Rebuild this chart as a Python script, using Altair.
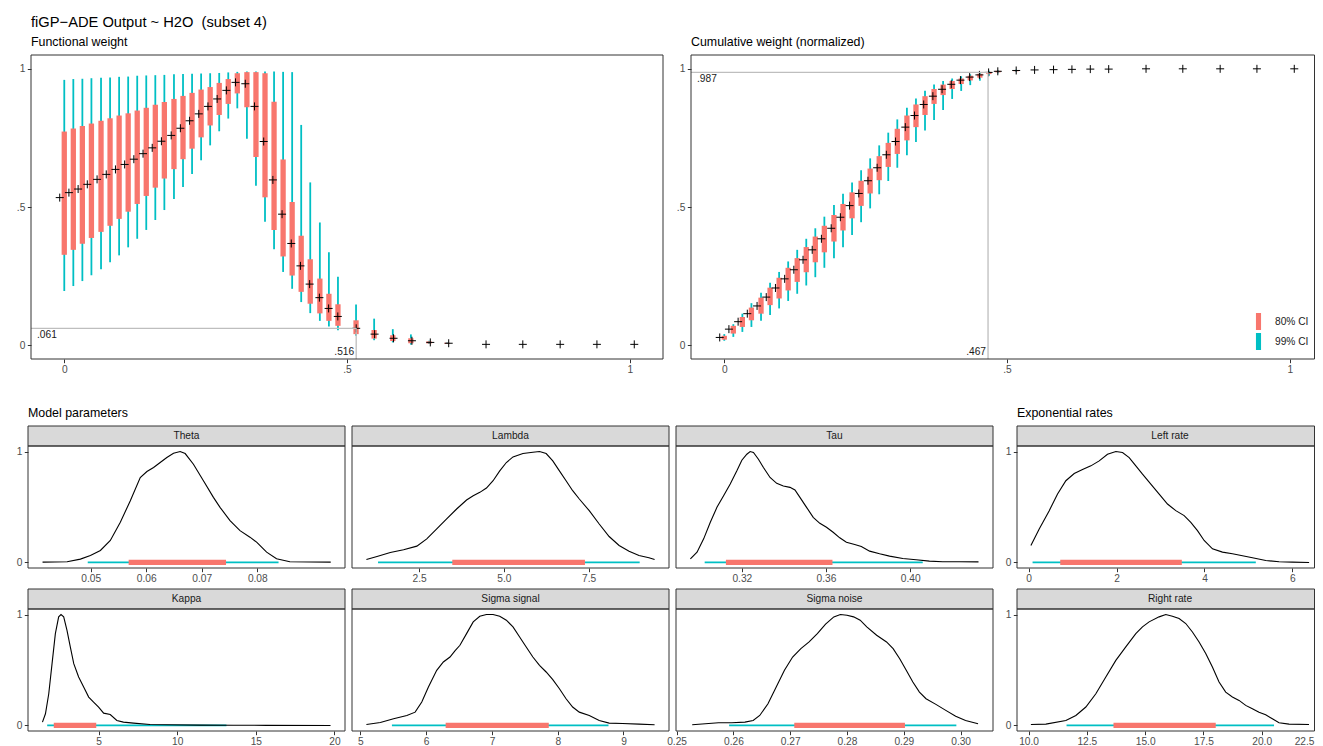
import altair as alt
import pandas as pd

# ------------------------------------------------------------------ data
TITLE = "fiGP\u2212ADE Output ~ H2O\u00a0 (subset 4)"
SUB_TL = "Functional weight"
SUB_TR = "Cumulative weight (normalized)"
SUB_PARAMS = "Model parameters"
SUB_RATES = "Exponential rates"
CI_NAMES = ["80% CI", "99% CI"]

GRID_X = [0.000, 0.016, 0.032, 0.048, 0.065, 0.081, 0.097, 0.113, 0.129, 0.145,
          0.161, 0.177, 0.194, 0.210, 0.226, 0.242, 0.258, 0.274, 0.290, 0.306,
          0.323, 0.339, 0.355, 0.371, 0.387, 0.403, 0.419, 0.435, 0.452, 0.468,
          0.484, 0.516, 0.548, 0.581, 0.613, 0.645, 0.677, 0.742, 0.806, 0.871,
          0.935, 1.000]

FW_MED = [0.534, 0.552, 0.565, 0.582, 0.600, 0.618, 0.636, 0.654, 0.673, 0.693,
          0.714, 0.738, 0.759, 0.785, 0.812, 0.837, 0.864, 0.891, 0.922, 0.951,
          0.946, 0.864, 0.737, 0.598, 0.474, 0.368, 0.287, 0.221, 0.172, 0.133,
          0.104, 0.061, 0.040, 0.025, 0.016, 0.010, 0.007, 0.003, 0.003, 0.003,
          0.003, 0.003]
FW_LO80 = [0.327, 0.345, 0.367, 0.388, 0.410, 0.432, 0.457, 0.483, 0.511, 0.540,
           0.570, 0.603, 0.637, 0.673, 0.711, 0.752, 0.795, 0.833, 0.873, 0.911,
           0.861, 0.681, 0.535, 0.417, 0.321, 0.252, 0.193, 0.150, 0.115, 0.088,
           0.070, 0.040, 0.024, 0.015, 0.007, 0.006, 0.005, 0.003, 0.003, 0.003,
           0.003, 0.003]
FW_HI80 = [0.773, 0.784, 0.793, 0.802, 0.812, 0.821, 0.831, 0.839, 0.849, 0.859,
           0.870, 0.880, 0.891, 0.902, 0.913, 0.925, 0.934, 0.949, 0.963, 0.984,
           0.988, 0.988, 0.984, 0.881, 0.672, 0.518, 0.396, 0.311, 0.241, 0.186,
           0.148, 0.090, 0.055, 0.036, 0.025, 0.014, 0.009, 0.003, 0.003, 0.003,
           0.003, 0.003]
FW_LO99 = [0.196, 0.214, 0.232, 0.253, 0.275, 0.300, 0.325, 0.354, 0.385, 0.417,
           0.453, 0.489, 0.529, 0.572, 0.619, 0.669, 0.723, 0.774, 0.820, 0.857,
           0.747, 0.577, 0.447, 0.347, 0.265, 0.204, 0.156, 0.116, 0.088, 0.068,
           0.054, 0.034, 0.018, 0.010, 0.002, 0.004, 0.004, 0.003, 0.003, 0.003,
           0.003, 0.003]
FW_HI99 = [0.960, 0.963, 0.964, 0.966, 0.968, 0.969, 0.971, 0.972, 0.975, 0.976,
           0.977, 0.978, 0.980, 0.981, 0.982, 0.983, 0.984, 0.985, 0.987, 0.989,
           0.990, 0.990, 0.990, 0.990, 0.989, 0.988, 0.797, 0.589, 0.444, 0.336,
           0.248, 0.147, 0.096, 0.058, 0.039, 0.016, 0.010, 0.003, 0.003, 0.003,
           0.003, 0.003]
FW_CUT_X, FW_CUT_Y = 0.516, 0.061
FW_LAB_X, FW_LAB_Y = ".516", ".061"

CW_MED = [0.028, 0.058, 0.085, 0.114, 0.142, 0.174, 0.207, 0.240, 0.273, 0.309,
          0.345, 0.385, 0.423, 0.463, 0.505, 0.549, 0.595, 0.642, 0.689, 0.737,
          0.789, 0.831, 0.871, 0.901, 0.926, 0.944, 0.959, 0.970, 0.978, 0.987,
          0.991, 0.994, 0.996, 0.997, 0.998, 0.999, 0.999, 1.000, 1.000, 1.000,
          1.000, 1.000]
CW_LO80 = [0.020, 0.042, 0.066, 0.090, 0.114, 0.145, 0.169, 0.198, 0.229, 0.264,
           0.300, 0.336, 0.375, 0.415, 0.459, 0.504, 0.549, 0.597, 0.645, 0.692,
           0.741, 0.789, 0.833, 0.873, 0.905, 0.927, 0.945, 0.958, 0.968, 0.981,
           0.987, 0.991, 0.996, 0.997, 0.998, 0.999, 0.999, 1.000, 1.000, 1.000,
           1.000, 1.000]
CW_HI80 = [0.034, 0.070, 0.102, 0.136, 0.172, 0.208, 0.244, 0.280, 0.315, 0.355,
           0.393, 0.432, 0.471, 0.511, 0.553, 0.595, 0.639, 0.684, 0.732, 0.783,
           0.831, 0.871, 0.901, 0.927, 0.943, 0.956, 0.965, 0.975, 0.982, 0.989,
           0.993, 0.995, 0.996, 0.997, 0.998, 0.999, 0.999, 1.000, 1.000, 1.000,
           1.000, 1.000]
CW_LO99 = [0.016, 0.030, 0.048, 0.066, 0.088, 0.109, 0.133, 0.160, 0.186, 0.216,
           0.246, 0.280, 0.315, 0.354, 0.399, 0.445, 0.495, 0.546, 0.594, 0.642,
           0.687, 0.735, 0.777, 0.815, 0.851, 0.891, 0.920, 0.941, 0.957, 0.975,
           0.984, 0.989, 0.996, 0.997, 0.998, 0.999, 0.999, 1.000, 1.000, 1.000,
           1.000, 1.000]
CW_HI99 = [0.040, 0.076, 0.114, 0.152, 0.190, 0.226, 0.265, 0.303, 0.345, 0.385,
           0.423, 0.465, 0.507, 0.548, 0.589, 0.633, 0.676, 0.723, 0.769, 0.817,
           0.859, 0.893, 0.921, 0.943, 0.956, 0.965, 0.973, 0.980, 0.987, 0.993,
           0.995, 0.997, 0.996, 0.997, 0.998, 0.999, 0.999, 1.000, 1.000, 1.000,
           1.000, 1.000]
CW_CUT_X, CW_CUT_Y = 0.467, 0.987
CW_LAB_X, CW_LAB_Y = ".467", ".987"

# posterior densities (scaled to max 1) and intervals [lo99, lo80, hi80, hi99]
THETA_X = [0.04132, 0.04575, 0.04814, 0.04994, 0.05174, 0.05353, 0.05533, 0.05713,
           0.05892, 0.06012, 0.06132, 0.06251, 0.06371, 0.06491, 0.06611, 0.06701,
           0.06850, 0.07030, 0.07210, 0.07329, 0.07509, 0.07689, 0.07868, 0.07988,
           0.08168, 0.08347, 0.08587, 0.09323]
THETA_D = [0.003, 0.006, 0.030, 0.063, 0.108, 0.198, 0.362, 0.557, 0.766, 0.820,
           0.856, 0.901, 0.946, 0.985, 1.000, 0.982, 0.886, 0.737, 0.587, 0.497,
           0.377, 0.287, 0.228, 0.183, 0.093, 0.033, 0.006, 0.003]
THETA_CI = [0.04946, 0.05683, 0.07437, 0.08383]

KAPPA_X = [1.43, 1.62, 1.83, 2.04, 2.25, 2.46, 2.61, 2.78, 2.99, 3.20, 3.42, 3.73,
           4.05, 4.37, 4.68, 5.00, 5.32, 5.74, 6.16, 6.58, 7.22, 8.27, 9.33, 11.44,
           13.56, 15.67, 19.75]
KAPPA_D = [0.030, 0.105, 0.286, 0.557, 0.828, 0.979, 1.000, 0.979, 0.858, 0.708,
           0.557, 0.437, 0.346, 0.256, 0.211, 0.166, 0.111, 0.099, 0.045, 0.030,
           0.021, 0.009, 0.006, 0.003, 0.002, 0.001, 0.000]
KAPPA_CI = [1.73, 2.15, 4.85, 13.13]

LAMBDA_X = [0.944, 1.257, 1.649, 2.040, 2.432, 2.725, 3.019, 3.312, 3.606, 3.899,
            4.095, 4.291, 4.486, 4.682, 4.878, 5.073, 5.269, 5.563, 5.856, 6.052,
            6.248, 6.443, 6.639, 6.835, 7.030, 7.226, 7.519, 7.813, 8.106, 8.400,
            8.694, 8.987, 9.281, 9.447]
LAMBDA_D = [0.027, 0.054, 0.090, 0.114, 0.147, 0.213, 0.302, 0.392, 0.482, 0.563,
            0.602, 0.632, 0.671, 0.737, 0.826, 0.901, 0.952, 0.982, 0.994, 1.000,
            0.982, 0.916, 0.826, 0.737, 0.647, 0.572, 0.467, 0.347, 0.234, 0.153,
            0.102, 0.063, 0.042, 0.027]
LAMBDA_CI = [1.287, 3.478, 7.392, 9.007]

SIGS_X = [5.091, 5.303, 5.504, 5.706, 5.832, 5.933, 6.034, 6.160, 6.261, 6.362,
          6.437, 6.513, 6.614, 6.715, 6.815, 6.916, 7.017, 7.118, 7.219, 7.320,
          7.421, 7.521, 7.622, 7.723, 7.824, 7.925, 8.026, 8.127, 8.227, 8.328,
          8.480, 8.631, 8.782, 8.984, 9.236, 9.473]
SIGS_D = [0.009, 0.027, 0.060, 0.090, 0.120, 0.211, 0.346, 0.497, 0.572, 0.617,
          0.672, 0.723, 0.828, 0.934, 0.985, 1.000, 1.000, 0.985, 0.949, 0.889,
          0.798, 0.708, 0.617, 0.542, 0.482, 0.413, 0.331, 0.241, 0.166, 0.120,
          0.090, 0.045, 0.021, 0.018, 0.012, 0.006]
SIGS_CI = [5.479, 6.296, 7.864, 8.772]

TAU_X = [0.29554, 0.29870, 0.30185, 0.30501, 0.30816, 0.31132, 0.31448, 0.31763,
         0.32000, 0.32237, 0.32395, 0.32552, 0.32789, 0.33026, 0.33341, 0.33657,
         0.33973, 0.34288, 0.34525, 0.34762, 0.35077, 0.35393, 0.35708, 0.36024,
         0.36340, 0.36655, 0.36971, 0.37365, 0.37681, 0.38075, 0.38549, 0.39022,
         0.39653, 0.40285, 0.40916, 0.41547, 0.42336, 0.43251]
TAU_D = [0.033, 0.093, 0.213, 0.362, 0.497, 0.602, 0.707, 0.826, 0.922, 0.976,
         1.000, 0.991, 0.931, 0.856, 0.766, 0.713, 0.689, 0.677, 0.653, 0.587,
         0.497, 0.407, 0.353, 0.317, 0.272, 0.222, 0.183, 0.162, 0.144, 0.102,
         0.078, 0.057, 0.036, 0.024, 0.012, 0.006, 0.006, 0.005]
TAU_CI = [0.30233, 0.31243, 0.36308, 0.40600]

SIGN_X = [0.25275, 0.25507, 0.25739, 0.25971, 0.26203, 0.26348, 0.26464, 0.26609,
          0.26754, 0.26899, 0.27043, 0.27188, 0.27333, 0.27478, 0.27623, 0.27768,
          0.27884, 0.28000, 0.28116, 0.28232, 0.28348, 0.28522, 0.28696, 0.28812,
          0.28928, 0.29043, 0.29159, 0.29275, 0.29391, 0.29565, 0.29739, 0.29913,
          0.30087, 0.30307]
SIGN_D = [0.006, 0.015, 0.024, 0.024, 0.030, 0.045, 0.090, 0.196, 0.346, 0.497,
          0.617, 0.693, 0.753, 0.828, 0.913, 0.979, 1.000, 0.994, 0.979, 0.949,
          0.889, 0.813, 0.753, 0.693, 0.602, 0.497, 0.392, 0.301, 0.241, 0.190,
          0.136, 0.084, 0.045, 0.015]
SIGN_CI = [0.25925, 0.27072, 0.29020, 0.29925]

LEFT_X = [0.053, 0.242, 0.470, 0.659, 0.848, 1.038, 1.227, 1.417, 1.606, 1.795,
          1.985, 2.136, 2.288, 2.439, 2.591, 2.780, 2.970, 3.159, 3.348, 3.538,
          3.689, 3.841, 3.992, 4.182, 4.409, 4.636, 4.864, 5.091, 5.394, 5.697,
          6.000, 6.379]
LEFT_D = [0.153, 0.302, 0.467, 0.617, 0.737, 0.802, 0.838, 0.871, 0.916, 0.976,
          1.000, 0.991, 0.946, 0.871, 0.796, 0.707, 0.617, 0.527, 0.467, 0.422,
          0.362, 0.287, 0.198, 0.123, 0.093, 0.078, 0.060, 0.042, 0.018, 0.006,
          0.003, 0.000]
LEFT_CI = [0.091, 0.720, 3.485, 5.167]

RIGHT_X = [10.100, 10.743, 11.600, 12.029, 12.457, 12.886, 13.314, 13.743, 14.171,
           14.600, 14.886, 15.171, 15.600, 15.886, 16.171, 16.457, 16.743, 17.029,
           17.314, 17.600, 17.886, 18.171, 18.457, 18.743, 19.029, 19.314, 19.600,
           19.886, 20.171, 20.457, 20.743, 21.171, 22.029]
RIGHT_D = [0.009, 0.012, 0.045, 0.090, 0.166, 0.286, 0.437, 0.587, 0.708, 0.828,
           0.889, 0.934, 0.979, 1.000, 0.985, 0.964, 0.919, 0.843, 0.753, 0.648,
           0.527, 0.392, 0.301, 0.256, 0.226, 0.181, 0.151, 0.120, 0.096, 0.060,
           0.024, 0.012, 0.009]
RIGHT_CI = [11.629, 13.643, 18.029, 20.529]

# ------------------------------------------------------------------ layout / style
W, H = 1307, 738           # whole drawing surface (page 8..1315, 8..746)
FONT = "Liberation Sans"
RED, CYAN = "#F8766D", "#00BFC4"
GUIDE = "#BEBEBE"
FRAME = "#333333"
TOP_Y = (47, 351)          # top, bottom of upper panels
TL_X = (23, 655)
TR_X = (683, 1315)
ROWS = [(438, 560), (601, 723)]
COLS = [(20, 337), (344, 661), (668, 985), (1009, 1315)]
STRIP_H = 20
UNIT = [-0.05, 1.05]
CROSS = "M-1,0L1,0M0,-1L0,1"
BAR_PATH = "M-0.3,-1L0.3,-1L0.3,1L-0.3,1Z"

CI_SCALE = alt.Scale(domain=CI_NAMES, range=[RED, CYAN])
LEG = alt.Legend(orient="none", legendX=1242, legendY=305, title=None,
                 symbolType=BAR_PATH, symbolSize=289, symbolStrokeWidth=0,
                 labelFontSize=10.2, labelFont=FONT, labelColor="#1A1A1A",
                 labelOffset=8, rowPadding=3, padding=0)


def sc(dom, rng):
    return alt.Scale(domain=dom, range=list(rng), nice=False, zero=False)


def axis_x(vals, fmt, ybot, expr=None, edge_value=None):
    kw = dict(values=vals, format=fmt, orient="bottom", offset=ybot - H, title=None,
              grid=False, domain=False, tickSize=3.7, tickColor=FRAME,
              labelColor="#4D4D4D", labelFontSize=10.2, labelFont=FONT,
              labelPadding=1.5, labelFlush=False, labelOverlap=False)
    if expr:
        kw["labelExpr"] = expr
    if edge_value is not None:
        # keep the last label inside the drawing surface
        kw["labelAlign"] = {"condition": {"test": f"datum.value >= {edge_value}",
                                          "value": "right"}, "value": "center"}
        kw["labelOffset"] = {"condition": {"test": f"datum.value >= {edge_value}",
                                           "value": -6}, "value": 0}
    return alt.Axis(**kw)


def axis_y(vals, fmt, xleft, expr=None):
    kw = dict(values=vals, format=fmt, orient="left", offset=-xleft, title=None,
              grid=False, domain=False, tickSize=3.7, tickColor=FRAME,
              labelColor="#4D4D4D", labelFontSize=10.2, labelFont=FONT,
              labelPadding=2.5, labelFlush=False, labelOverlap=False)
    if expr:
        kw["labelExpr"] = expr
    return alt.Axis(**kw)


def text_layer(s, x, y, size, align="left", baseline="alphabetic", color="#000000"):
    return alt.Chart(pd.DataFrame({"t": [s]})).mark_text(
        align=align, baseline=baseline, fontSize=size, font=FONT, color=color
    ).encode(x=alt.value(x), y=alt.value(y), text="t:N")


def rect_layer(x0, y0, x1, y1, fill="transparent"):
    x1 = min(x1, W - 0.5)
    return alt.Chart(pd.DataFrame({"k": [0]})).mark_rect(
        fill=fill, stroke=FRAME, strokeWidth=1
    ).encode(x=alt.value(x0), x2=alt.value(x1), y=alt.value(y0), y2=alt.value(y1))


layers = []


def interval_panel(xr, med, lo80, hi80, lo99, hi99, cx, cy, labx, laby, legend):
    xs = sc(UNIT, xr)
    ys = sc(UNIT, (TOP_Y[1], TOP_Y[0]))
    expr = "datum.value == 0.5 ? '.5' : datum.label"
    d99 = pd.DataFrame({"x": GRID_X, "lo": lo99, "hi": hi99, "ci": CI_NAMES[1]})
    d80 = pd.DataFrame({"x": GRID_X, "lo": lo80, "hi": hi80, "ci": CI_NAMES[0]})
    dm = pd.DataFrame({"x": GRID_X, "m": med})
    g = pd.DataFrame({"cx": [cx], "cy": [cy], "lo": [UNIT[0]],
                      "lx": [labx], "ly": [laby]})
    out = [
        alt.Chart(d99).mark_bar(size=1.8).encode(
            x=alt.X("x:Q", scale=xs, axis=axis_x([0, 0.5, 1], "~g", TOP_Y[1], expr)),
            y=alt.Y("lo:Q", scale=ys, axis=axis_y([0, 0.5, 1], "~g", xr[0], expr)),
            y2="hi:Q",
            color=alt.Color("ci:N", scale=CI_SCALE, legend=legend)),
        alt.Chart(d80).mark_bar(size=5.3).encode(
            x=alt.X("x:Q", scale=xs, axis=None),
            y=alt.Y("lo:Q", scale=ys, axis=None), y2="hi:Q",
            color=alt.Color("ci:N", scale=CI_SCALE, legend=legend)),
        alt.Chart(dm).mark_point(shape=CROSS, size=64, filled=False, color="black",
                                 strokeWidth=1, opacity=1).encode(
            x=alt.X("x:Q", scale=xs, axis=None), y=alt.Y("m:Q", scale=ys, axis=None)),
        alt.Chart(g).mark_rule(color=GUIDE, strokeWidth=1.3).encode(
            x=alt.X("lo:Q", scale=xs, axis=None), x2="cx:Q",
            y=alt.Y("cy:Q", scale=ys, axis=None)),
        alt.Chart(g).mark_rule(color=GUIDE, strokeWidth=1.3).encode(
            x=alt.X("cx:Q", scale=xs, axis=None),
            y=alt.Y("lo:Q", scale=ys, axis=None), y2="cy:Q"),
        alt.Chart(g).mark_text(align="left", baseline="alphabetic", dx=6, dy=10,
                               fontSize=10.2, font=FONT, color="#1A1A1A").encode(
            x=alt.X("lo:Q", scale=xs, axis=None), y=alt.Y("cy:Q", scale=ys, axis=None),
            text="ly:N"),
        alt.Chart(g).mark_text(align="right", baseline="alphabetic", dx=-2, dy=-4,
                               fontSize=10.2, font=FONT, color="#1A1A1A").encode(
            x=alt.X("cx:Q", scale=xs, axis=None), y=alt.Y("lo:Q", scale=ys, axis=None),
            text="lx:N"),
        rect_layer(xr[0], TOP_Y[0], xr[1], TOP_Y[1]),
    ]
    return out


layers += interval_panel(TL_X, FW_MED, FW_LO80, FW_HI80, FW_LO99, FW_HI99,
                         FW_CUT_X, FW_CUT_Y, FW_LAB_X, FW_LAB_Y, LEG)
layers += interval_panel(TR_X, CW_MED, CW_LO80, CW_HI80, CW_LO99, CW_HI99,
                         CW_CUT_X, CW_CUT_Y, CW_LAB_X, CW_LAB_Y, LEG)

PANELS = [
    ("Theta", THETA_X, THETA_D, THETA_CI, [0.0387, 0.0958], [0.05, 0.06, 0.07, 0.08], ".2f", 0, 0),
    ("Lambda", LAMBDA_X, LAMBDA_D, LAMBDA_CI, [0.519, 9.872], [2.5, 5.0, 7.5], ".1f", 1, 0),
    ("Tau", TAU_X, TAU_D, TAU_CI, [0.2887, 0.4394], [0.32, 0.36, 0.40], ".2f", 2, 0),
    ("Left rate", LEFT_X, LEFT_D, LEFT_CI, [-0.263, 6.695], [0, 2, 4, 6], "d", 3, 0),
    ("Kappa", KAPPA_X, KAPPA_D, KAPPA_CI, [0.51, 20.67], [5, 10, 15, 20], "d", 0, 1),
    ("Sigma signal", SIGS_X, SIGS_D, SIGS_CI, [4.872, 9.692], [5, 6, 7, 8, 9], "d", 1, 1),
    ("Sigma noise", SIGN_X, SIGN_D, SIGN_CI, [0.2499, 0.3057],
     [0.25, 0.26, 0.27, 0.28, 0.29, 0.30], ".2f", 2, 1),
    ("Right rate", RIGHT_X, RIGHT_D, RIGHT_CI, [9.504, 22.63],
     [10, 12.5, 15, 17.5, 20, 22.5], ".1f", 3, 1),
]

for name, px, pd_, ci, dom, ticks, fmt, col, row in PANELS:
    x0, x1 = COLS[col]
    ytop, ybot = ROWS[row]
    xs = sc(dom, (x0, x1))
    ys = sc(UNIT, (ybot, ytop))
    show_y = col in (0, 3)
    edge = ticks[-1] if col == 3 and row == 1 else None
    iv = pd.DataFrame({"lo99": [ci[0]], "lo80": [ci[1]], "hi80": [ci[2]],
                       "hi99": [ci[3]], "base": [0]})
    cur = pd.DataFrame({"v": px, "d": pd_})
    layers += [
        alt.Chart(iv).mark_rule(color=CYAN, strokeWidth=1.7).encode(
            x=alt.X("lo99:Q", scale=xs, axis=None), x2="hi99:Q",
            y=alt.Y("base:Q", scale=ys, axis=None)),
        alt.Chart(iv).mark_rule(color=RED, strokeWidth=5.3).encode(
            x=alt.X("lo80:Q", scale=xs, axis=None), x2="hi80:Q",
            y=alt.Y("base:Q", scale=ys, axis=None)),
        alt.Chart(cur).mark_line(color="black", strokeWidth=1.1).encode(
            x=alt.X("v:Q", scale=xs, axis=axis_x(ticks, fmt, ybot, edge_value=edge)),
            y=alt.Y("d:Q", scale=ys,
                    axis=axis_y([0, 1], "d", x0) if show_y else None)),
        rect_layer(x0, ytop - STRIP_H, x1, ytop, fill="#D9D9D9"),
        text_layer(name, (x0 + x1) / 2, ytop - STRIP_H / 2, 10.2, align="center",
                   baseline="middle", color="#1A1A1A"),
        rect_layer(x0, ytop, x1, ybot),
    ]

layers += [
    text_layer(TITLE, 23, 18.5, 14.7),
    text_layer(SUB_TL, 23, 37.5, 12.4),
    text_layer(SUB_TR, 683, 37.5, 12.4),
    text_layer(SUB_PARAMS, 20, 409.3, 12.4),
    text_layer(SUB_RATES, 1009, 409.3, 12.4),
]

chart = (
    alt.layer(*layers)
    .resolve_scale(x="independent", y="independent")
    .properties(width=W, height=H, padding=0,
                autosize=alt.AutoSizeParams(type="none"))
    .configure(font=FONT)
    .configure_view(strokeWidth=0, stroke=None)
)

chart.save("out.html", embed_options={"renderer": "svg", "actions": False})
